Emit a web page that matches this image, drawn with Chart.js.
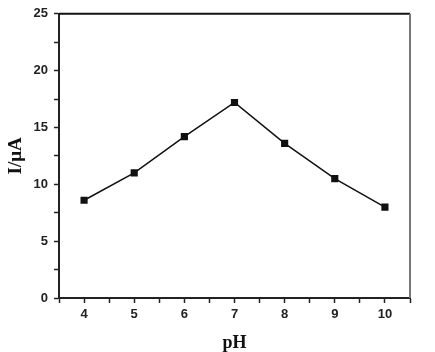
<!DOCTYPE html>
<html>
<head>
<meta charset="utf-8">
<script src="https://cdn.jsdelivr.net/npm/chart.js@4"></script>
<style>
  body { margin: 0; background: #fff; }
  canvas { display: block; }
</style>
</head>
<body>
<canvas id="phChart" width="435" height="352"></canvas>
<script>
const ctx = document.getElementById("phChart");

// pH values (x) and measured current (y, µA)
const phValues = [4, 5, 6, 7, 8, 9, 10];
const currents = [8.6, 11.0, 14.2, 17.2, 13.6, 10.5, 8.0];

const xTitle = "pH";
const yTitle = "I/\u03BCA";

// top + right frame lines (axes only draw left/bottom)
const frame = {
    id: "frame",
    afterDraw(chart) {
        const a = chart.chartArea;
        const c = chart.ctx;
        c.save();
        c.lineWidth = 2;
        c.strokeStyle = "#111";
        c.beginPath();
        c.moveTo(a.left, a.top);
        c.lineTo(a.right, a.top);
        c.stroke();
        c.strokeStyle = "#777";
        c.beginPath();
        c.moveTo(a.right, a.top);
        c.lineTo(a.right, a.bottom);
        c.stroke();
        c.restore();
    }
};

const tickFont = { family: "Liberation Sans, Arial", size: 13, weight: "bold" };
const titleFont = { family: "Liberation Serif, Times New Roman", weight: "bold" };

new Chart(ctx, {
    type: "line",
    data: {
        datasets: [{
            data: phValues.map((p, i) => ({ x: p, y: currents[i] })),
            borderColor: "#111",
            backgroundColor: "#111",
            borderWidth: 1.5,
            tension: 0,
            pointStyle: "rect",
            pointRadius: 4,
            pointHoverRadius: 4
        }]
    },
    options: {
        responsive: false,
        animation: false,
        layout: {
            padding: { top: 11, right: 25, left: 0, bottom: 0 }
        },
        plugins: {
            legend: { display: false },
            tooltip: { enabled: false }
        },
        scales: {
            x: {
                type: "linear",
                min: 3.5,
                max: 10.5,
                afterFit: s => { s.height = 54; },
                ticks: {
                    stepSize: 0.5,
                    autoSkip: false,
                    maxRotation: 0,
                    padding: 4,
                    color: "#222",
                    font: tickFont,
                    callback: v => Number.isInteger(v) ? v : ""
                },
                grid: {
                    drawOnChartArea: false,
                    drawTicks: true,
                    tickLength: 5,
                    tickColor: "#222",
                    tickWidth: 1.5
                },
                border: { color: "#222", width: 2 },
                title: {
                    display: true,
                    text: xTitle,
                    color: "#111",
                    font: Object.assign({ size: 18, lineHeight: 1 }, titleFont),
                    padding: { top: -8, bottom: 0 }
                }
            },
            y: {
                min: 0,
                max: 25,
                afterFit: s => { s.width = 59; },
                ticks: {
                    stepSize: 2.5,
                    padding: 6,
                    color: "#222",
                    font: tickFont,
                    callback: v => v % 5 === 0 ? v : ""
                },
                grid: {
                    drawOnChartArea: false,
                    drawTicks: true,
                    tickLength: 5,
                    tickColor: "#222",
                    tickWidth: 1.5
                },
                border: { color: "#222", width: 2 },
                title: {
                    display: true,
                    text: yTitle,
                    color: "#111",
                    font: Object.assign({ size: 19, lineHeight: 1 }, titleFont),
                    padding: { top: 7, bottom: 0 }
                }
            }
        }
    },
    plugins: [frame]
});
</script>
</body>
</html>
